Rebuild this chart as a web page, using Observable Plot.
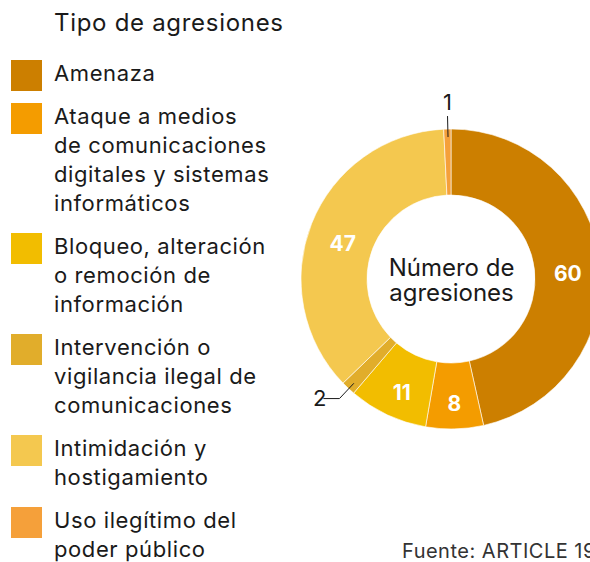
<!DOCTYPE html>
<html>
<head>
<meta charset="utf-8">
<script src="https://cdn.jsdelivr.net/npm/d3@7"></script>
<script src="https://cdn.jsdelivr.net/npm/@observablehq/plot@0.6"></script>
<style>
  html, body { margin: 0; padding: 0; background: #fff; overflow: hidden; }
  body { width: 590px; height: 562px; font-family: Inter, "Noto Sans", sans-serif; color: #1a1a1a; }
  #wrap { position: relative; width: 590px; height: 562px; overflow: hidden; }
  #chart { position: absolute; left: 0; top: 0; }
  #title { position: absolute; left: 54px; top: 7px; font-size: 24px; line-height: 32px; letter-spacing: 0.7px; white-space: nowrap; }
  #legend { position: absolute; left: 11px; top: 59px; }
  .item { position: relative; padding-left: 43px; margin-bottom: 14px; }
  .sw { position: absolute; left: 0; top: 1px; width: 31px; height: 31px; }
  .lab { font-size: 22px; line-height: 29px; white-space: nowrap; letter-spacing: 0.6px; }
  #source { position: absolute; left: 402px; top: 539px; font-size: 20px; line-height: 24px; letter-spacing: 0.5px; color: #333; white-space: nowrap; }
</style>
</head>
<body>
<div id="wrap">
  <div id="chart"></div>
  <div id="title"></div>
  <div id="legend"></div>
  <div id="source"></div>
</div>
<script>
// ---- data ----
const categories = [
  "Amenaza",
  "Ataque a medios de comunicaciones digitales y sistemas informáticos",
  "Bloqueo, alteración o remoción de información",
  "Intervención o vigilancia ilegal de comunicaciones",
  "Intimidación y hostigamiento",
  "Uso ilegítimo del poder público"
];
const legendLines = [
  ["Amenaza"],
  ["Ataque a medios", "de comunicaciones", "digitales y sistemas", "informáticos"],
  ["Bloqueo, alteración", "o remoción de", "información"],
  ["Intervención o", "vigilancia ilegal de", "comunicaciones"],
  ["Intimidación y", "hostigamiento"],
  ["Uso ilegítimo del", "poder público"]
];
const values = [60, 8, 11, 2, 47, 1];
const colors = ["#cc7f00", "#f49c00", "#f2bd00", "#e1ad2b", "#f4c84f", "#f5a03a"];
const titleText = "Tipo de agresiones";
const centerText = "Número de\nagresiones";
const sourceText = "Fuente: ARTICLE 19";

// ---- derived table ----
const data = categories.map((c, i) => ({category: c, value: values[i]}));
const pie = d3.pie().sort(null).value(d => d.value)(data);
const inner = 0.56, outer = 1;          // radii in data units
const arcs = pie.map(p => {
  const mid = (p.startAngle + p.endAngle) / 2;
  return {category: p.data.category, value: p.data.value, start: p.startAngle, end: p.endAngle, mid,
          sx: Math.sin(mid), cy: Math.cos(mid)};
});
const big = arcs.filter(a => a.value >= 5);
const small = arcs.filter(a => a.value < 5);
const rMid = (inner + outer) / 2;

// leader lines for small slices
const leaders = [];
const sideLabels = [];
const topLabels = [];
small.forEach(a => {
  const x1 = 0.95 * a.sx, y1 = 0.95 * a.cy;
  const x2 = 1.09 * a.sx, y2 = 1.09 * a.cy;
  leaders.push({x1, y1, x2, y2});
  if (Math.abs(a.sx) > 0.3) {
    const dir = Math.sign(a.sx);
    const x3 = x2 + dir * 0.107;
    leaders.push({x1: x2, y1: y2, x2: x3, y2});
    sideLabels.push({x: x3 + dir * 0.025, y: y2, text: String(a.value), anchor: dir < 0 ? "end" : "start"});
  } else {
    topLabels.push({x: x2, y: y2 + 0.04, text: String(a.value)});
  }
});

// ---- title / legend / source (HTML) ----
document.getElementById("title").textContent = titleText;
document.getElementById("source").textContent = sourceText;
const legend = document.getElementById("legend");
categories.forEach((c, i) => {
  const item = document.createElement("div");
  item.className = "item";
  const sw = document.createElement("div");
  sw.className = "sw";
  sw.style.background = colors[i];
  const lab = document.createElement("div");
  lab.className = "lab";
  lab.innerHTML = legendLines[i].join("<br>");
  item.append(sw, lab);
  legend.append(item);
});

// ---- donut ----
const color = {type: "ordinal", domain: categories, range: colors};
const arcMark = (index, scales) => {
  const g = d3.create("svg:g");
  const cx = scales.x(0), cy = scales.y(0);
  const unit = scales.x(1) - scales.x(0);
  const arcGen = d3.arc().innerRadius(inner * unit).outerRadius(outer * unit);
  g.attr("transform", `translate(${cx},${cy})`)
    .selectAll("path")
    .data(arcs)
    .join("path")
    .attr("d", a => arcGen({startAngle: a.start, endAngle: a.end}))
    .attr("fill", a => scales.color(a.category))
    .attr("stroke", "#fff")
    .attr("stroke-width", 0.6);
  return g.node();
};

const plot = Plot.plot({
  width: 590,
  height: 562,
  margin: 0,
  x: {domain: [-1, 1], range: [301, 601], axis: null},
  y: {domain: [-1, 1], range: [429, 129], axis: null},
  color,
  style: {fontFamily: "Inter, 'Noto Sans', sans-serif", overflow: "visible", background: "transparent"},
  marks: [
    arcMark,
    Plot.text(big, {
      x: d => rMid * d.sx, y: d => rMid * d.cy, text: d => String(d.value),
      fill: "#fff", fontSize: 21, fontWeight: "bold", dy: 8, letterSpacing: 0.5
    }),
    Plot.text([centerText], {
      x: () => 0, y: () => 0, text: d => d, fontSize: 24, lineHeight: 1.02, fill: "#1a1a1a", dy: 1,
      letterSpacing: 0.8
    }),
    Plot.link(leaders, {x1: "x1", y1: "y1", x2: "x2", y2: "y2", stroke: "#1a1a1a", strokeWidth: 1}),
    Plot.text(sideLabels, {
      x: "x", y: "y", text: "text", textAnchor: d => d.anchor, lineAnchor: "middle",
      fontSize: 22, fill: "#1a1a1a"
    }),
    Plot.text(topLabels, {
      x: "x", y: "y", text: "text", textAnchor: "middle", lineAnchor: "bottom",
      fontSize: 22, fill: "#1a1a1a"
    })
  ]
});
document.getElementById("chart").append(plot);
</script>
</body>
</html>
